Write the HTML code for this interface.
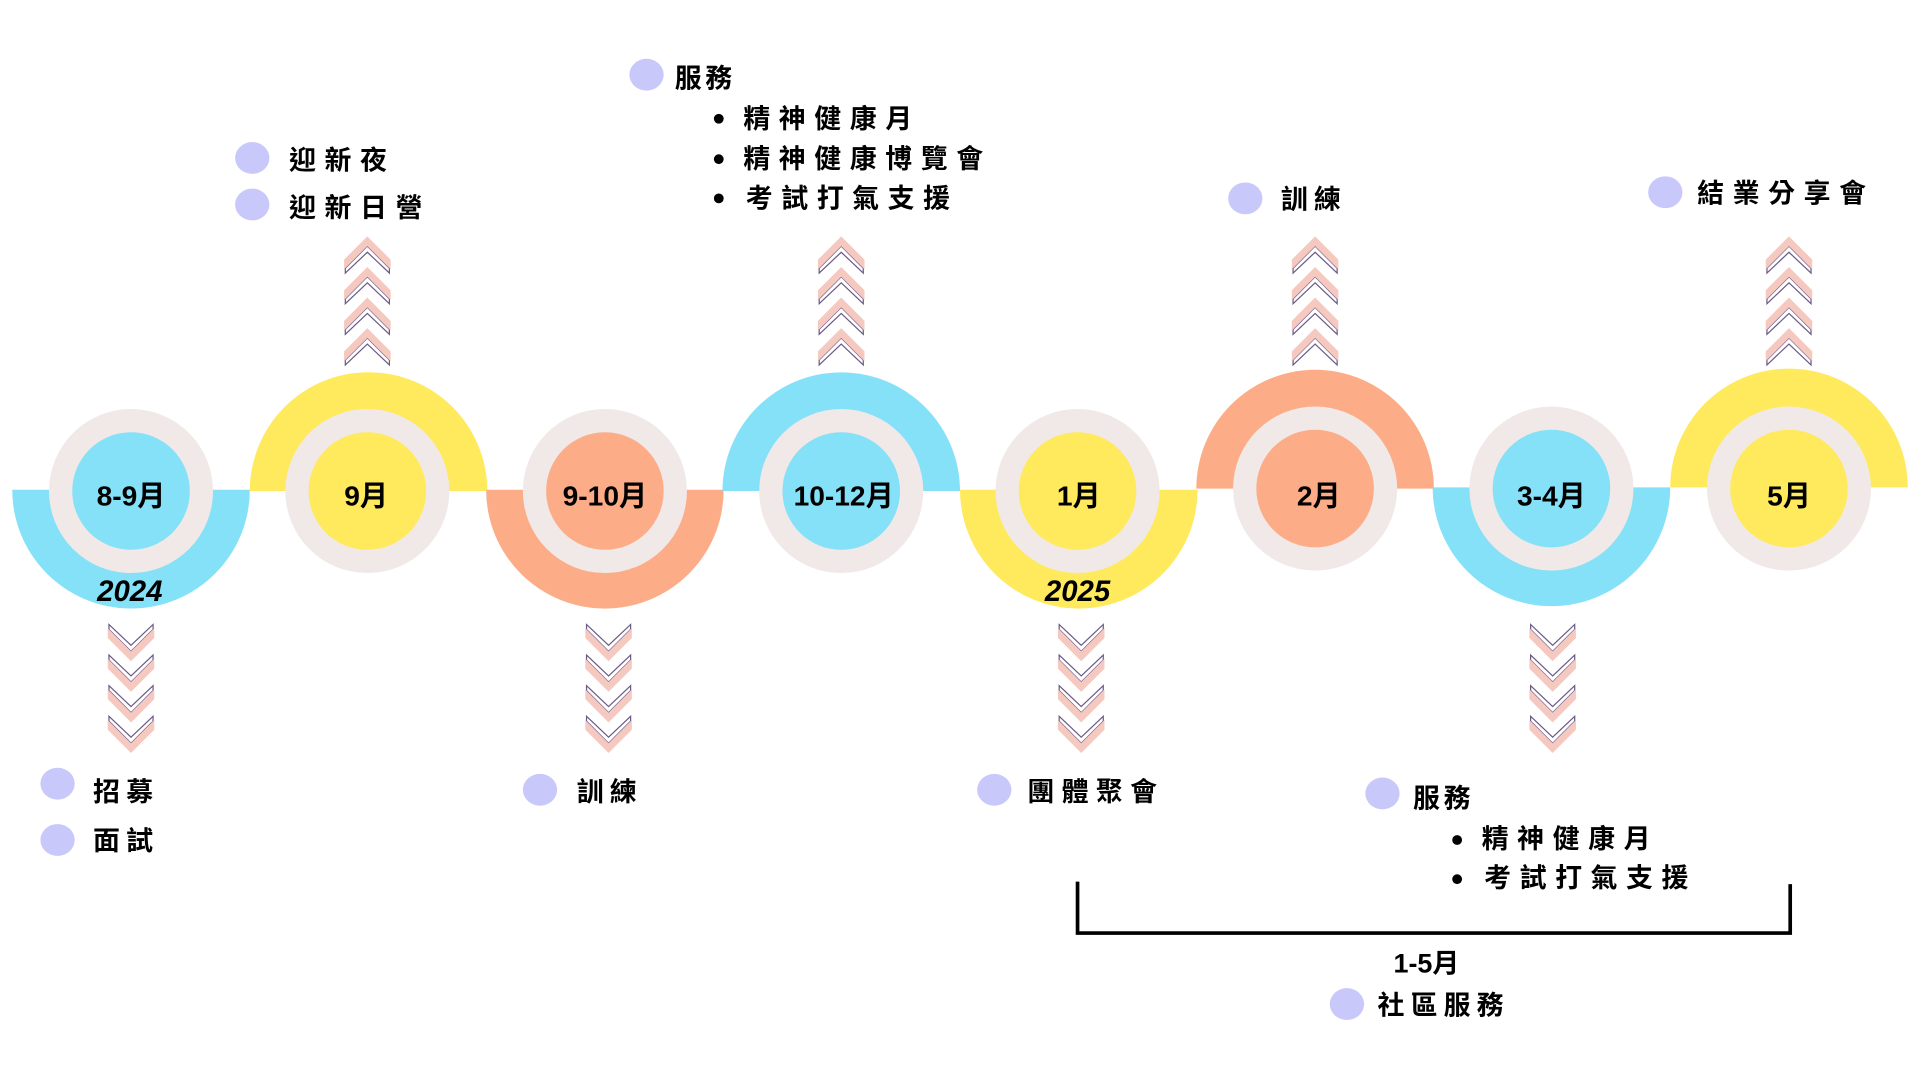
<!DOCTYPE html>
<html><head><meta charset="utf-8"><style>
html,body{margin:0;padding:0;background:#fff;width:1920px;height:1080px;overflow:hidden}
svg{display:block}
text{font-family:"Liberation Sans","Noto Sans CJK TC",sans-serif;font-weight:700;fill:#000}
</style></head><body>
<svg width="1920" height="1080" viewBox="0 0 1568 882" preserveAspectRatio="none" xmlns="http://www.w3.org/2000/svg">
<defs>
<g id="up">
  <polygon points="-18,17 0,-1 18,17 18,21 0,4 -18,21" fill="none" stroke="#6b5a86" stroke-width="1"/>
  <polygon points="-19,10 0,-9 19,10 19,18 0,-1 -19,18" fill="#f5c9c0"/>
</g>
<g id="upstack">
  <use href="#up" y="0"/><use href="#up" y="25"/><use href="#up" y="50"/><use href="#up" y="75"/>
</g>
<g id="dn">
  <polygon points="-18,-17 0,1 18,-17 18,-21 0,-4 -18,-21" fill="none" stroke="#6b5a86" stroke-width="1"/>
  <polygon points="-19,-10 0,9 19,-10 19,-18 0,1 -19,-18" fill="#f5c9c0"/>
</g>
<g id="dnstack">
  <use href="#dn" y="0"/><use href="#dn" y="25"/><use href="#dn" y="50"/><use href="#dn" y="75"/>
</g>
</defs>

<!-- half discs -->
<path d="M10,400 A97,97 0 0 0 204,400 Z" fill="#84e1f7"/>
<path d="M204,401 A97,97 0 0 1 398,401 Z" fill="#ffe95c"/>
<path d="M397,400 A97,97 0 0 0 591,400 Z" fill="#fcad88"/>
<path d="M590,401 A97,97 0 0 1 784,401 Z" fill="#84e1f7"/>
<path d="M784,400 A97,97 0 0 0 978,400 Z" fill="#ffe95c"/>
<path d="M977,399 A97,97 0 0 1 1171,399 Z" fill="#fcad88"/>
<path d="M1170,398 A97,97 0 0 0 1364,398 Z" fill="#84e1f7"/>
<path d="M1364,398 A97,97 0 0 1 1558,398 Z" fill="#ffe95c"/>

<!-- rings -->
<g fill="#f1e9e7">
<circle cx="107" cy="401" r="67"/><circle cx="300" cy="401" r="67"/>
<circle cx="494" cy="401" r="67"/><circle cx="687" cy="401" r="67"/>
<circle cx="880" cy="401" r="67"/><circle cx="1074" cy="399" r="67"/>
<circle cx="1267" cy="399" r="67"/><circle cx="1461" cy="399" r="67"/>
</g>
<circle cx="107" cy="401" r="48" fill="#84e1f7"/>
<circle cx="300" cy="401" r="48" fill="#ffe95c"/>
<circle cx="494" cy="401" r="48" fill="#fcad88"/>
<circle cx="687" cy="401" r="48" fill="#84e1f7"/>
<circle cx="880" cy="401" r="48" fill="#ffe95c"/>
<circle cx="1074" cy="399" r="48" fill="#fcad88"/>
<circle cx="1267" cy="399" r="48" fill="#84e1f7"/>
<circle cx="1461" cy="399" r="48" fill="#ffe95c"/>

<g font-size="23" text-anchor="middle" dominant-baseline="central">
<text x="107" y="405">8-9月</text>
<text x="299" y="405">9月</text>
<text x="494" y="405">9-10月</text>
<text x="689" y="405">10-12月</text>
<text x="881" y="405">1月</text>
<text x="1077" y="405">2月</text>
<text x="1267" y="405">3-4月</text>
<text x="1461" y="405">5月</text>
<text x="106" y="483" font-style="italic" font-size="24">2024</text>
<text x="880" y="483" font-style="italic" font-size="24">2025</text>
</g>

<!-- chevrons -->
<use href="#upstack" x="300" y="202"/>
<use href="#upstack" x="687" y="202"/>
<use href="#upstack" x="1074" y="202"/>
<use href="#upstack" x="1461" y="202"/>
<use href="#dnstack" x="107" y="531"/>
<use href="#dnstack" x="497" y="531"/>
<use href="#dnstack" x="883" y="531"/>
<use href="#dnstack" x="1268" y="531"/>

<!-- bullets -->
<g fill="#c9c8fa">
<ellipse cx="47" cy="640" rx="14" ry="13"/><ellipse cx="47" cy="686" rx="14" ry="13"/>
<ellipse cx="206" cy="129" rx="14" ry="13"/><ellipse cx="206" cy="167" rx="14" ry="13"/>
<ellipse cx="528" cy="61" rx="14" ry="13"/>
<ellipse cx="441" cy="645" rx="14" ry="13"/>
<ellipse cx="1017" cy="162" rx="14" ry="13"/>
<ellipse cx="812" cy="645" rx="14" ry="13"/>
<ellipse cx="1360" cy="157" rx="14" ry="13"/>
<ellipse cx="1129" cy="648" rx="14" ry="13"/>
<ellipse cx="1100" cy="820" rx="14" ry="13"/>
</g>

<g font-size="22" dominant-baseline="central" letter-spacing="7">
<text x="76" y="647" letter-spacing="5">招募</text>
<text x="76" y="687" letter-spacing="5">面試</text>
<text x="236" y="131">迎新夜</text>
<text x="236" y="170">迎新日營</text>
<text x="551" y="64" letter-spacing="3">服務</text>
<text x="607" y="97">精神健康月</text>
<text x="607" y="130">精神健康博覽會</text>
<text x="609" y="162">考試打氣支援</text>
<text x="471" y="647" letter-spacing="5">訓練</text>
<text x="1046" y="163" letter-spacing="5">訓練</text>
<text x="839" y="647" letter-spacing="6">團體聚會</text>
<text x="1386" y="158">結業分享會</text>
<text x="1154" y="652" letter-spacing="3">服務</text>
<text x="1210" y="685">精神健康月</text>
<text x="1212" y="717">考試打氣支援</text>
<text x="1138" y="787" letter-spacing="0">1-5月</text>
<text x="1125" y="821" letter-spacing="5">社區服務</text>
</g>
<g fill="#000">
<circle cx="587" cy="97" r="4"/><circle cx="587" cy="130" r="4"/><circle cx="587" cy="162" r="4"/>
<circle cx="1190" cy="686" r="4"/><circle cx="1190" cy="718" r="4"/>
</g>

<!-- bracket -->
<path d="M880,720 V762 H1462 V722" fill="none" stroke="#000" stroke-width="3"/>
</svg>
</body></html>
